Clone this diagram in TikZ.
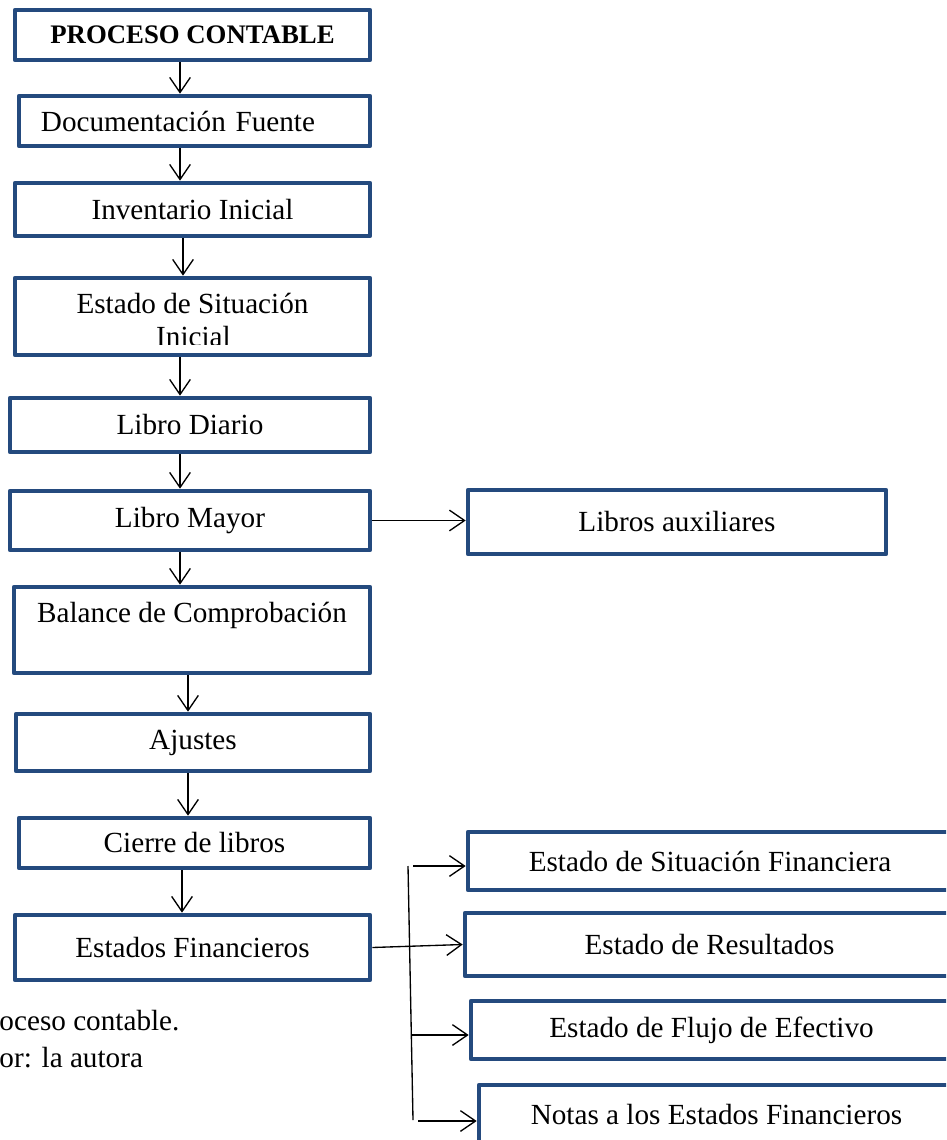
\documentclass[tikz,border=0pt]{standalone}
\usepackage{fontspec}
\setmainfont{Liberation Serif}
\usetikzlibrary{arrows.meta}
\definecolor{azulcaja}{HTML}{244A7E}
\tikzset{
  caja/.style={draw=azulcaja, line width=1.9pt, line join=round, inner sep=0pt, align=center, font=\fontsize{12}{14.5}\selectfont},
  tam/.style 2 args={minimum width=#1*0.411pt, minimum height=#2*0.411pt},
  flecha/.style={-{Straight Barb[length=6.2pt,width=8.5pt]}, line width=0.55pt},
  nota/.style={anchor=base west, inner sep=0pt, font=\fontsize{12}{14.5}\selectfont}
}
\begin{document}
\begin{tikzpicture}[x=0.411pt,y=-0.411pt]
\useasboundingbox (0,0) rectangle (946,1140);
\clip (0,0) rectangle (946,1140);
\node[caja,tam={355}{50},font=\fontsize{11}{13}\selectfont\bfseries] (pc) at (192.5,35) {PROCESO CONTABLE};
\node[caja,tam={351}{50},text width=126.2pt,inner xsep=9.04pt,align=left] (df) at (194.5,121) {Documentación Fuente};
\node[caja,tam={355}{53}] (ii) at (192.5,209.5) {Inventario Inicial};
\node[caja,tam={355}{77}] (esi) at (192.5,316.5) {};
\begin{scope}
\clip (16,279) rectangle (369,345);
\node[nota,anchor=base] (esi1) at (192.5,314) {Estado de Situación};
\node[nota,anchor=base] (esi2) at (193.5,347) {Inicial};
\end{scope}
\node[caja,tam={360}{54}] (ld) at (190,425) {Libro Diario};
\node[caja,tam={360}{59}] (lm) at (190,520.5) {Libro Mayor};
\node[caja,tam={356}{86}] (bc) at (192,630) {Balance de Comprobación\\\mbox{}};
\node[caja,tam={354}{57}] (aj) at (193,742.5) {Ajustes};
\node[caja,tam={351}{50}] (cl) at (194.5,843) {Cierre de libros};
\node[caja,tam={355}{65}] (ef) at (192.5,947.5) {Estados Financieros};
\node[caja,tam={418}{64}] (la) at (677,522) {Libros auxiliares};
\node[caja,tam={484}{58}] (sf) at (710,861) {Estado de Situación Financiera};
\node[caja,tam={489}{63}] (er) at (709.5,944.5) {Estado de Resultados};
\node[caja,tam={481}{58}] (fe) at (711.5,1030) {Estado de Flujo de Efectivo};
\node[caja,tam={475}{58}] (ne) at (716.5,1114) {Notas a los Estados Financieros};
\draw[flecha] (pc.south -| 180,0) -- (df.north -| 180,0);
\draw[flecha] (df.south -| 180,0) -- (ii.north -| 180,0);
\draw[flecha] (ii.south -| 183,0) -- (esi.north -| 183,0);
\draw[flecha] (esi.south -| 180,0) -- (ld.north -| 180,0);
\draw[flecha] (ld.south -| 180,0) -- (lm.north -| 180,0);
\draw[flecha] (lm.south -| 180,0) -- (bc.north -| 180,0);
\draw[flecha] (bc.south -| 188,0) -- (aj.north -| 188,0);
\draw[flecha] (aj.south -| 188,0) -- (cl.north -| 188,0);
\draw[flecha] (cl.south -| 182,0) -- (ef.north -| 182,0);
\draw[flecha] (lm.east) -- (lm.east -| la.west);
\coordinate (ct) at (408,866);
\coordinate (cb) at (413,1120);
\coordinate (c1) at (413,866);
\coordinate (c3) at (411,1035);
\coordinate (c4) at (418,1121);
\draw[line width=0.55pt] (ct) -- (cb);
\draw[flecha] (c1) -- (c1 -| sf.west);
\draw[flecha] (ef.east) -- (er.west);
\draw[flecha] (c3) -- (c3 -| fe.west);
\draw[flecha] (c4) -- (c4 -| ne.west);
\node[nota] (cap1) at (-1,1030) {oceso contable.};
\node[nota] (cap2) at (-1,1067) {or: la autora};
\end{tikzpicture}
\end{document}
